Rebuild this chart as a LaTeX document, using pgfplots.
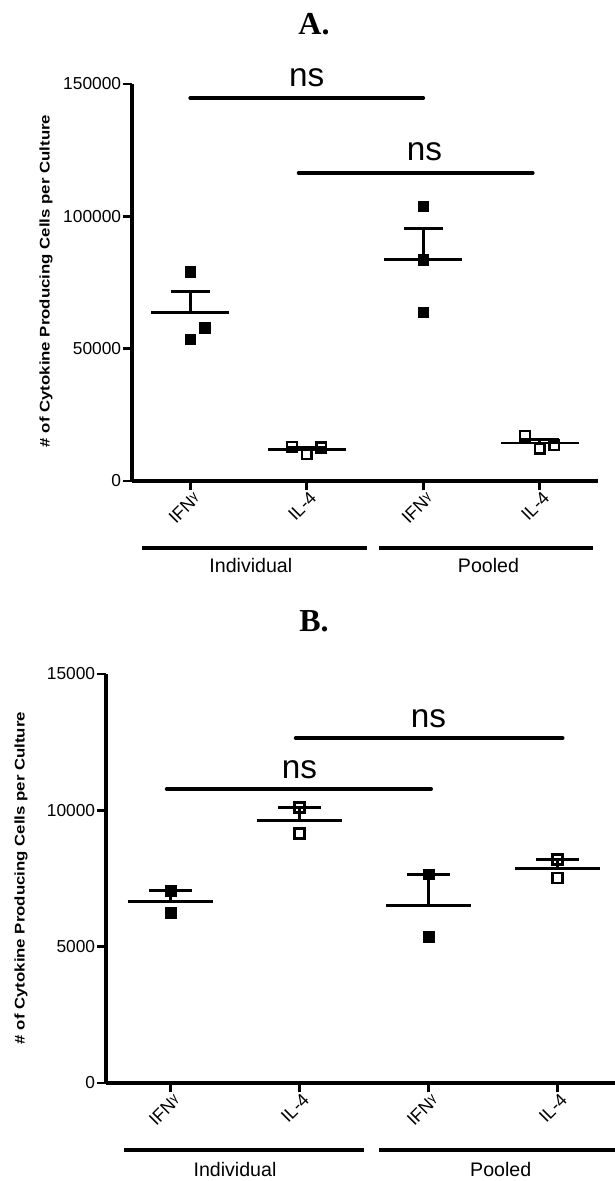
\documentclass[border=0pt]{standalone}
\usepackage{fontspec}
\setmainfont{Liberation Sans}
\newfontfamily\titlefont{Liberation Serif}
\usepackage{graphicx}
\usepackage{pgfplots}
\pgfplotsset{compat=1.18}

% small raised gamma used in the IFN tick labels
\newcommand{\gam}{\raisebox{0.4ex}{\fontsize{9.5}{9.5}\selectfont γ}}
\newcommand{\ylab}{\scalebox{1.2}[1]{\bfseries\fontsize{10.5}{10.5}\selectfont \# of Cytokine Producing Cells per Culture}}

\pgfplotsset{
  prism/.style={
    scale only axis,
    axis x line*=bottom, axis y line*=left,
    axis line style={line width=2.4pt},
    xmin=-0.5, xmax=3.5, ymin=0,
    xtick={0,1,2,3},
    xticklabels={IFN\gam, IL-4, IFN\gam, IL-4},
    tick align=outside,
    major tick length=7pt,
    tick style={black, line width=2.2pt},
    xticklabel style={rotate=45, anchor=east, inner sep=1pt,
      xshift=2pt, yshift=-6pt,
      font=\fontsize{13.5}{13.5}\selectfont},
    yticklabel style={inner sep=1pt, font=\fontsize{13}{13}\selectfont,
      /pgf/number format/fixed, /pgf/number format/1000 sep={}},
    /pgf/number format/assume math mode=true,
    scaled y ticks=false,
    clip=false,
  },
  meanbar/.style={black, line width=2pt},
  sigbar/.style={black, line width=2.8pt, line cap=round},
  filled/.style={only marks, mark=square*, mark size=4pt, black},
  open/.style={only marks, mark=square, mark size=3.7pt, black,
    mark options={fill=white, line width=1.8pt}},
}

\begin{document}
\begin{tikzpicture}

% ---------------- panel A ----------------
\node[font=\titlefont\bfseries\fontsize{24}{24}\selectfont, anchor=base]
  at (235.5pt,-26.25pt) {A.};

\begin{axis}[prism,
  at={(99pt,-360.75pt)}, anchor=south west,
  width=349.5pt, height=297.75pt,
  ymax=150000, ytick={0,50000,100000,150000}]

  % group means
  \addplot[meanbar] coordinates {(-0.333,63600) (0.333,63600)};
  \addplot[meanbar] coordinates {(0.667,11900) (1.333,11900)};
  \addplot[meanbar] coordinates {(1.667,83770) (2.333,83770)};
  \addplot[meanbar] coordinates {(2.667,14300) (3.333,14300)};
  % SEM whiskers
  \addplot[meanbar] coordinates {(0,63600) (0,71500)};
  \addplot[meanbar] coordinates {(-0.167,71500) (0.167,71500)};
  \addplot[meanbar] coordinates {(1,11900) (1,12750)};
  \addplot[meanbar] coordinates {(0.833,12750) (1.167,12750)};
  \addplot[meanbar] coordinates {(2,83770) (2,95300)};
  \addplot[meanbar] coordinates {(1.833,95300) (2.167,95300)};
  \addplot[meanbar] coordinates {(3,14300) (3,15740)};
  \addplot[meanbar] coordinates {(2.833,15740) (3.167,15740)};

  % individual cultures
  \addplot[filled] coordinates {(0,79100) (0.125,58000) (0,53600)
                                (2,103800) (2,83700) (2,63800)};
  \addplot[open] coordinates {(0.875,12800) (1,10200) (1.125,12700)
                              (2.875,17100) (3,12300) (3.125,13500)};

  % comparisons
  \addplot[sigbar] coordinates {(0,144700) (2,144700)};
  \node[anchor=base, yshift=9pt, font=\fontsize{25}{25}\selectfont]
    at (axis cs:1,144700) {ns};
  \addplot[sigbar] coordinates {(0.93,116400) (2.94,116400)};
  \node[anchor=base, yshift=9pt, font=\fontsize{25}{25}\selectfont]
    at (axis cs:2.01,116400) {ns};

  % group brackets
  \draw[line width=3pt] ([yshift=-50.25pt]axis cs:-0.41,0) -- ([yshift=-50.25pt]axis cs:1.52,0);
  \draw[line width=3pt] ([yshift=-50.25pt]axis cs:1.62,0) -- ([yshift=-50.25pt]axis cs:3.46,0);
  \node[font=\fontsize{14.7}{14.7}\selectfont] at ([yshift=-63pt]axis cs:0.52,0) {Individual};
  \node[font=\fontsize{14.7}{14.7}\selectfont] at ([yshift=-63pt]axis cs:2.56,0) {Pooled};
\end{axis}
\node[rotate=90] at (34.5pt,-210.75pt) {\ylab};

% ---------------- panel B ----------------
\node[font=\titlefont\bfseries\fontsize{24}{24}\selectfont, anchor=base]
  at (235.5pt,-473.25pt) {B.};

\begin{axis}[prism,
  at={(79.5pt,-812.25pt)}, anchor=south west,
  width=387pt, height=306.75pt,
  ymax=15000, ytick={0,5000,10000,15000}]

  % group means
  \addplot[meanbar] coordinates {(-0.333,6650) (0.333,6650)};
  \addplot[meanbar] coordinates {(0.667,9625) (1.333,9625)};
  \addplot[meanbar] coordinates {(1.667,6505) (2.333,6505)};
  \addplot[meanbar] coordinates {(2.667,7860) (3.333,7860)};
  % SEM whiskers
  \addplot[meanbar] coordinates {(0,6650) (0,7050)};
  \addplot[meanbar] coordinates {(-0.167,7050) (0.167,7050)};
  \addplot[meanbar] coordinates {(1,9625) (1,10100)};
  \addplot[meanbar] coordinates {(0.833,10100) (1.167,10100)};
  \addplot[meanbar] coordinates {(2,6505) (2,7650)};
  \addplot[meanbar] coordinates {(1.833,7650) (2.167,7650)};
  \addplot[meanbar] coordinates {(3,7860) (3,8200)};
  \addplot[meanbar] coordinates {(2.833,8200) (3.167,8200)};

  % individual cultures
  \addplot[filled] coordinates {(0,7050) (0,6250) (2,7650) (2,5360)};
  \addplot[open] coordinates {(1,10100) (1,9150) (3,8200) (3,7520)};

  % comparisons
  \addplot[sigbar] coordinates {(-0.03,10780) (2.02,10780)};
  \node[anchor=base, yshift=8pt, font=\fontsize{25}{25}\selectfont]
    at (axis cs:1,10780) {ns};
  \addplot[sigbar] coordinates {(0.97,12650) (3.04,12650)};
  \node[anchor=base, yshift=8pt, font=\fontsize{25}{25}\selectfont]
    at (axis cs:2,12650) {ns};

  % group brackets
  \draw[line width=3pt] ([yshift=-50.25pt]axis cs:-0.36,0) -- ([yshift=-50.25pt]axis cs:1.50,0);
  \draw[line width=3pt] ([yshift=-50.25pt]axis cs:1.62,0) -- ([yshift=-50.25pt]axis cs:3.46,0);
  \node[font=\fontsize{14.7}{14.7}\selectfont] at ([yshift=-65pt]axis cs:0.5,0) {Individual};
  \node[font=\fontsize{14.7}{14.7}\selectfont] at ([yshift=-65pt]axis cs:2.56,0) {Pooled};
\end{axis}
\node[rotate=90] at (15.75pt,-658.5pt) {\ylab};

\pgfresetboundingbox
\path[use as bounding box] (0,0) rectangle (460.5pt,-885.75pt);
\end{tikzpicture}
\end{document}
